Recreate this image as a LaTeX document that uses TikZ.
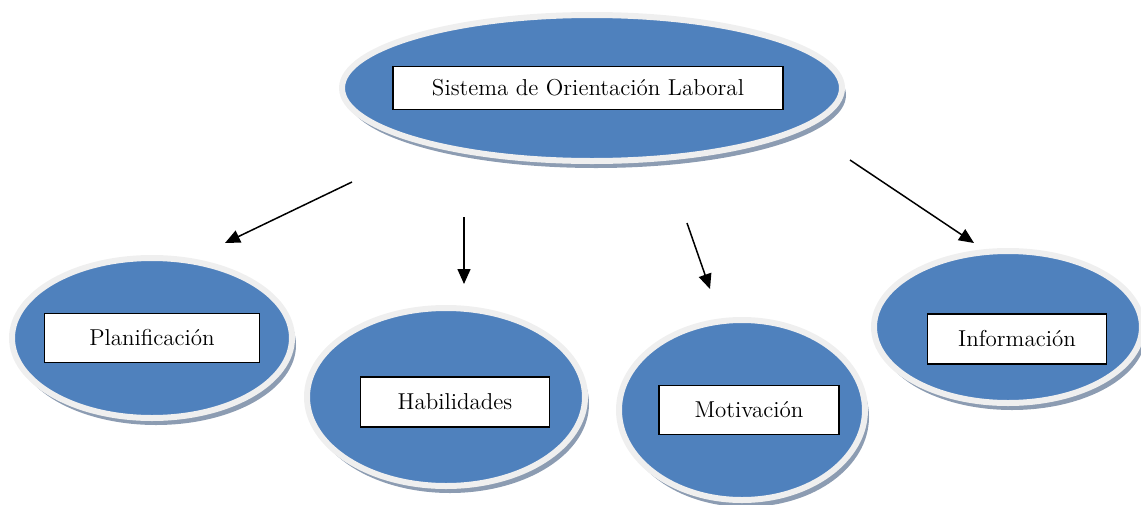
\documentclass[tikz,border=0pt]{standalone}
\usepackage{tikz}
\usetikzlibrary{positioning,arrows.meta,shapes.geometric,shadows}
\definecolor{oblue}{HTML}{4F81BD}
\definecolor{oring}{HTML}{EFEFEF}
\definecolor{oshadow}{HTML}{8C9CB2}
\tikzset{area/.style={ellipse,fill=oblue,draw=oring,line width=3pt,inner sep=0pt,
		drop shadow={shadow xshift=2pt,shadow yshift=-3.5pt,fill=oshadow,opacity=1}},
	 tag/.style={rectangle,draw=black,fill=white,line width=0.8pt,inner sep=0pt,
		font=\fontsize{11.5}{13}\selectfont},
	 link/.style={-{Triangle[length=7.5pt,width=6.5pt]},line width=0.75pt}
	 }

\begin{document}
\begin{tikzpicture}[x=0.5pt,y=-0.5pt] % areas of the guidance system
	\useasboundingbox (0,0) rectangle (1141,504);
	\node[area,minimum width=250pt,minimum height=73pt] (sol) at (592,88) {};
	\node[area,minimum width=140pt,minimum height=80pt] (plan) at (152,338) {};
	\node[area,minimum width=139pt,minimum height=89pt] (hab) at (446,397) {};
	\node[area,minimum width=123pt,minimum height=90pt] (mot) at (742,410) {};
	\node[area,minimum width=134pt,minimum height=76pt] (inf) at (1008,327) {};
	\node[tag,minimum width=195pt,minimum height=21.5pt] (tsol) at ([xshift=-2pt]sol) {Sistema de Orientación Laboral};
	\node[tag,minimum width=107.5pt,minimum height=24.5pt] (tplan) at (plan) {Planificación};
	\node[tag,minimum width=94.5pt,minimum height=25pt] (thab) at ([xshift=4.5pt,yshift=-2.5pt]hab) {Habilidades};
	\node[tag,minimum width=90pt,minimum height=24.5pt] (tmot) at ([xshift=3.5pt]mot) {Motivación};
	\node[tag,minimum width=89.5pt,minimum height=25pt] (tinf) at ([xshift=4.5pt,yshift=-6pt]inf) {Información};
	\coordinate (s1) at (352,182); \coordinate (e1) at (225,243);
	\coordinate (s2) at (464,217); \coordinate (e2) at (464,284);
	\coordinate (s3) at (687,223); \coordinate (e3) at (710,289);
	\coordinate (s4) at (850,160); \coordinate (e4) at (974,243);
	\draw[link] (s1) -- (e1); \draw[link] (s2) -- (e2);
	\draw[link] (s3) -- (e3); \draw[link] (s4) -- (e4);
\end{tikzpicture}
\end{document}
